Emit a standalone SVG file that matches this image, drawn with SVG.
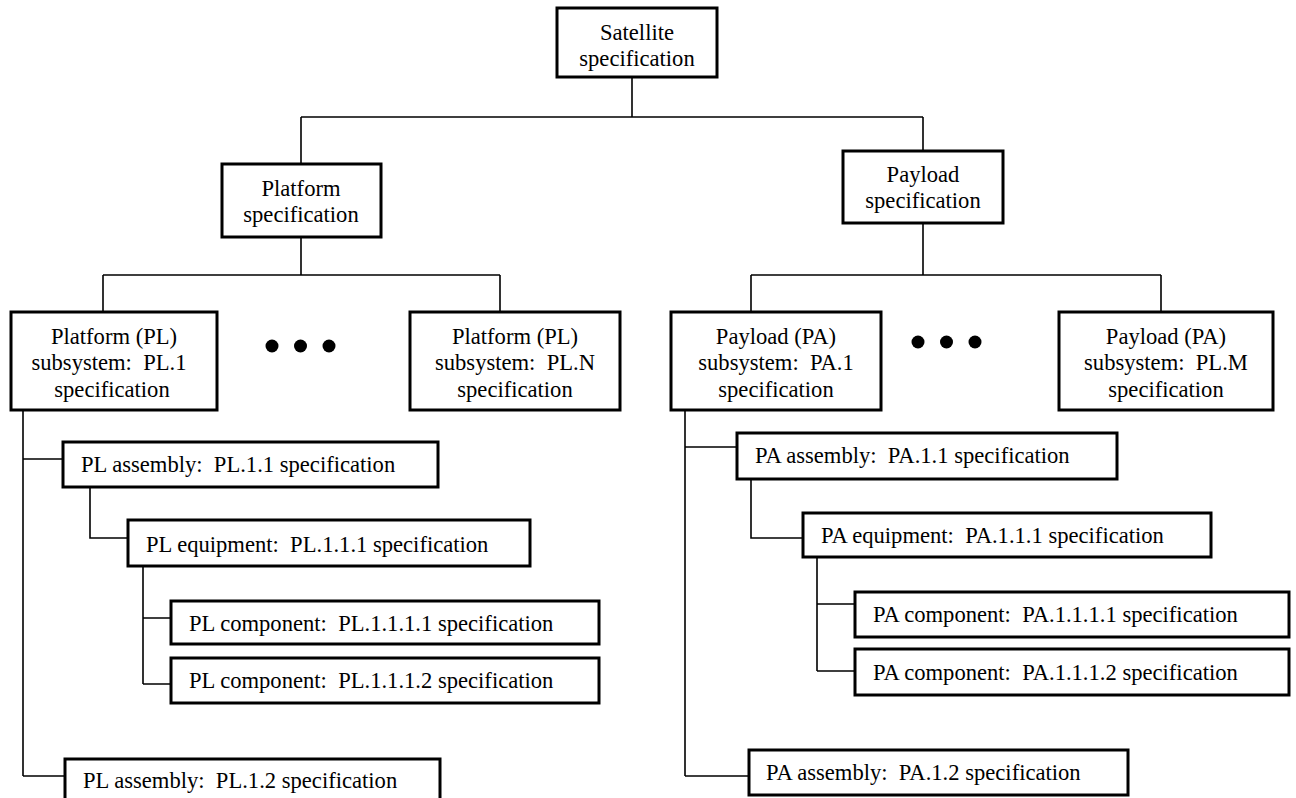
<svg xmlns="http://www.w3.org/2000/svg" width="1296" height="798" viewBox="0 0 1296 798">
<style>
.box{fill:#fff;stroke:#000;stroke-width:3}
.c{fill:none;stroke:#000;stroke-width:1.6}
text{font-family:"Liberation Serif","DejaVu Serif",serif;font-size:22.6px;fill:#000;white-space:pre}
.m{text-anchor:middle}
</style>
<rect width="1296" height="798" fill="#fff"/>
<g id="connectors">
<path class="c" d="M632 78V117M301 117H923M301 117V164M923 117V151"/>
<path class="c" d="M301 237V275M103 275H500M103 275V312M500 275V312"/>
<path class="c" d="M923 223V275M751 275H1161M751 275V312M1161 275V312"/>
<path class="c" d="M23 410V776M23 459H63M23 776H65"/>
<path class="c" d="M90 487V538H128"/>
<path class="c" d="M143 566V684M143 618H171M143 684H171"/>
<path class="c" d="M685 410V776M685 447H737M685 776H749"/>
<path class="c" d="M751 479V538H803"/>
<path class="c" d="M817 557V671M817 604H855M817 671H855"/>
</g>
<g id="satellite"><rect class="box" x="557" y="8" width="160" height="69"/><text class="m" x="637" y="40">Satellite</text><text class="m" x="637" y="66">specification</text></g>
<g id="platform"><rect class="box" x="222" y="164" width="159" height="73"/><text class="m" x="301" y="196">Platform</text><text class="m" x="301" y="222">specification</text></g>
<g id="payload"><rect class="box" x="843" y="151" width="160" height="72"/><text class="m" x="923" y="182">Payload</text><text class="m" x="923" y="208">specification</text></g>
<g id="pl1"><rect class="box" x="11" y="312" width="206" height="98"/><text class="m" x="114" y="344">Platform (PL)</text><text class="m" x="109" y="370">subsystem:  PL.1</text><text class="m" x="112" y="397">specification</text></g>
<g id="dots-pl"><circle cx="272" cy="346" r="6.5"/><circle cx="300.5" cy="346" r="6.5"/><circle cx="329" cy="346" r="6.5"/></g>
<g id="pln"><rect class="box" x="410" y="312" width="210" height="98"/><text class="m" x="515" y="344">Platform (PL)</text><text class="m" x="515" y="370">subsystem:  PL.N</text><text class="m" x="515" y="397">specification</text></g>
<g id="pa1"><rect class="box" x="671" y="312" width="210" height="98"/><text class="m" x="776" y="344">Payload (PA)</text><text class="m" x="776" y="370">subsystem:  PA.1</text><text class="m" x="776" y="397">specification</text></g>
<g id="dots-pa"><circle cx="918" cy="342" r="6.5"/><circle cx="946.5" cy="342" r="6.5"/><circle cx="975" cy="342" r="6.5"/></g>
<g id="pam"><rect class="box" x="1059" y="312" width="214" height="98"/><text class="m" x="1166" y="344">Payload (PA)</text><text class="m" x="1166" y="370">subsystem:  PL.M</text><text class="m" x="1166" y="397">specification</text></g>
<g id="pl-assembly-1"><rect class="box" x="63" y="442" width="375" height="45"/><text x="81" y="472">PL assembly:  PL.1.1 specification</text></g>
<g id="pl-equipment"><rect class="box" x="128" y="520" width="402" height="46"/><text x="146" y="552">PL equipment:  PL.1.1.1 specification</text></g>
<g id="pl-component-1"><rect class="box" x="171" y="601" width="428" height="43"/><text x="189" y="631">PL component:  PL.1.1.1.1 specification</text></g>
<g id="pl-component-2"><rect class="box" x="171" y="658" width="428" height="45"/><text x="189" y="688">PL component:  PL.1.1.1.2 specification</text></g>
<g id="pl-assembly-2"><rect class="box" x="65" y="759" width="375" height="46"/><text x="83" y="788">PL assembly:  PL.1.2 specification</text></g>
<g id="pa-assembly-1"><rect class="box" x="737" y="433" width="380" height="46"/><text x="755" y="463">PA assembly:  PA.1.1 specification</text></g>
<g id="pa-equipment"><rect class="box" x="803" y="513" width="408" height="44"/><text x="821" y="543">PA equipment:  PA.1.1.1 specification</text></g>
<g id="pa-component-1"><rect class="box" x="855" y="592" width="434" height="45"/><text x="873" y="622">PA component:  PA.1.1.1.1 specification</text></g>
<g id="pa-component-2"><rect class="box" x="855" y="649" width="434" height="46"/><text x="873" y="680">PA component:  PA.1.1.1.2 specification</text></g>
<g id="pa-assembly-2"><rect class="box" x="749" y="750" width="379" height="45"/><text x="766" y="780">PA assembly:  PA.1.2 specification</text></g>
</svg>
